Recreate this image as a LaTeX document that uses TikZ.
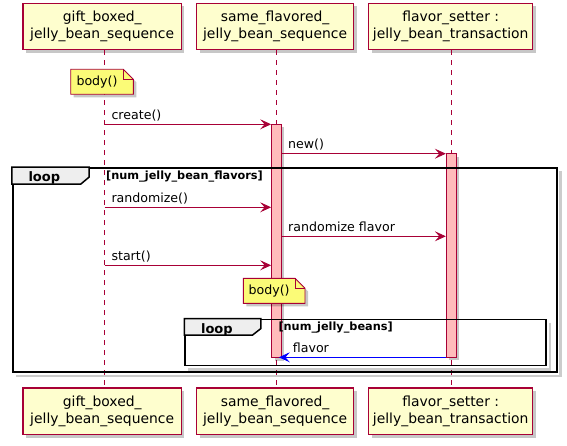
\documentclass[tikz,border=0pt]{standalone}
\usepackage{fontspec}
\setmainfont{DejaVu Sans}
\usetikzlibrary{arrows.meta,shadows,calc}
\definecolor{umlred}{HTML}{A80036}
\definecolor{partfill}{HTML}{FEFECE}
\definecolor{actfill}{HTML}{FFBBBB}
\definecolor{notefill}{HTML}{FBFB77}
\definecolor{tabfill}{HTML}{EEEEEE}
\tikzset{
  umlshadow/.style={drop shadow={shadow xshift=3pt,shadow yshift=-3pt,fill=black,opacity=.22}},
  part/.style={draw=umlred,fill=partfill,line width=1.3pt,align=center,inner sep=0pt,
    minimum height=46.5pt,font=\fontsize{13.9}{16.3}\selectfont,umlshadow},
  lifeline/.style={draw=umlred,line width=0.9pt,dash pattern=on 5pt off 5pt},
  actbar/.style={draw=umlred,fill=actfill,line width=0.9pt,inner sep=0pt,minimum width=9.8pt,umlshadow},
  msg/.style={draw=umlred,line width=0.9pt,-{Stealth[length=11pt,width=10pt,inset=4.5pt]}},
  retmsg/.style={draw=blue,line width=0.9pt,-{Stealth[length=11pt,width=10pt,inset=4.5pt]}},
  msglabel/.style={anchor=base west,inner sep=0pt,font=\fontsize{12.6}{15}\selectfont},
  notebody/.style={draw=umlred,fill=notefill,line width=0.9pt,line join=miter},
  noteshadow/.style={fill=black,opacity=.22},
  notelabel/.style={inner sep=0pt,font=\fontsize{12.6}{15}\selectfont},
  fragment/.style={draw=black,line width=1.8pt,inner sep=0pt},
  fragshadow/.style={draw=black,opacity=.2,line width=2.5pt},
  fragtab/.style={draw=black,fill=tabfill,line width=1.5pt,line join=miter},
  tablabel/.style={anchor=base west,inner sep=0pt,font=\fontsize{13}{15}\selectfont\bfseries},
  guardlabel/.style={anchor=base west,inner sep=0pt,font=\fontsize{11.3}{13}\selectfont\bfseries},
}
\newcommand\umlnote[6]{%
  \fill[noteshadow] (#2+3,#3+3) -- (#4-7,#3+3) -- (#4+3,#3+13) -- (#4+3,#5+3) -- (#2+3,#5+3) -- cycle;
  \filldraw[notebody] (#2,#3) -- (#4-10,#3) -- (#4,#3+10) -- (#4,#5) -- (#2,#5) -- cycle;
  \draw[notebody,fill=none] (#4-10,#3) -- (#4-10,#3+10) -- (#4,#3+10);
  \node[notelabel] (#1) at ({(#2+#4)/2-5},{(#3+#5)/2}) {#6};}
\begin{document}
\begin{tikzpicture}[x=1pt,y=-1pt]
\fill[white] (0,0) rectangle (567,446);
\useasboundingbox (0,0) rectangle (567,446);

\coordinate (L1) at (104.7,0);
\coordinate (L2) at (276.7,0);
\coordinate (L3) at (451.3,0);

% participants
\node[part,minimum width=158.3pt] (p1t) at (102.2,26.5) {gift\_boxed\_\\jelly\_bean\_sequence};
\node[part,minimum width=157.2pt] (p2t) at (275.1,26.5) {same\_flavored\_\\jelly\_bean\_sequence};
\node[part,minimum width=164pt] (p3t) at (450.7,26.5) {flavor\_setter :\\jelly\_bean\_transaction};
\node[part,minimum width=158.3pt] (p1b) at (102.2,411.3) {gift\_boxed\_\\jelly\_bean\_sequence};
\node[part,minimum width=157.2pt] (p2b) at (275.1,411.3) {same\_flavored\_\\jelly\_bean\_sequence};
\node[part,minimum width=164pt] (p3b) at (450.7,411.3) {flavor\_setter :\\jelly\_bean\_transaction};

% lifelines
\draw[lifeline] (p1t.south -| L1) -- (p1b.north -| L1);
\draw[lifeline] (p2t.south -| L2) -- (p2b.north -| L2);
\draw[lifeline] (p3t.south -| L3) -- (p3b.north -| L3);

% note 1
\umlnote{n1}{70.7}{69.3}{133.3}{94.3}{body()}

% activation bars
\node[actbar,minimum height=233.2pt] (a2) at (276.5,240.9) {};
\node[actbar,minimum height=203.6pt,minimum width=10pt] (a3) at (451.3,255.5) {};

% messages
\coordinate (m1) at (L1 |- 0,124.3);
\draw[msg] (m1) -- (a2.west |- m1);
\node[msglabel] (t1) at (111.3,119.3) {create()};

\coordinate (m2) at (a2.east |- 0,153.7);
\draw[msg] (m2) -- (a3.west |- m2);
\node[msglabel] (t2) at (288,148.7) {new()};

\coordinate (m3) at (L1 |- 0,207.3);
\draw[msg] (m3) -- (a2.west |- m3);
\node[msglabel] (t3) at (111.3,202.3) {randomize()};

\coordinate (m4) at (a2.east |- 0,236.3);
\draw[msg] (m4) -- (a3.west |- m4);
\node[msglabel] (t4) at (288,231.3) {randomize flavor};

\coordinate (m5) at (L1 |- 0,265.3);
\draw[msg] (m5) -- (a2.west |- m5);
\node[msglabel] (t5) at (111.3,260.3) {start()};

% note 2
\umlnote{n2}{243.3}{278.3}{305}{303.3}{body()}

% outer loop fragment
\node[fragment,minimum width=544pt,minimum height=204pt] (f1) at (284.7,270) {};
\draw[fragshadow] ($(f1.north east)+(3,4)$) -- ($(f1.south east)+(3,3)$) -- ($(f1.south west)+(4,3)$);
\filldraw[fragtab] (f1.north west) -- ++(77.3,0) -- ++(0,10) -- ++(-8.3,7) -- ++(-69,0) -- cycle;
\node[tablabel] (f1l) at (28.3,181.7) {loop};
\node[guardlabel] (f1g) at (106,179.2) {[num\_jelly\_bean\_flavors]};

% inner loop fragment
\node[fragment,minimum width=361pt,minimum height=46pt] (f2) at (365.8,342.5) {};
\draw[fragshadow] ($(f2.north east)+(3,4)$) -- ($(f2.south east)+(3,3)$) -- ($(f2.south west)+(4,3)$);
\filldraw[fragtab] (f2.north west) -- ++(76.4,0) -- ++(0,10) -- ++(-8.3,6.5) -- ++(-68.1,0) -- cycle;
\node[tablabel] (f2l) at (200.9,333.2) {loop};
\node[guardlabel] (f2g) at (278.3,330.9) {[num\_jelly\_beans]};

% return message
\coordinate (m6) at (a3.west |- 0,357.3);
\coordinate (m6e) at ($(a2.east |- m6)+(-3,0)$);
\draw[retmsg] (m6) -- (m6e);
\node[msglabel] (t6) at (292.7,352.5) {flavor};
\end{tikzpicture}
\end{document}
